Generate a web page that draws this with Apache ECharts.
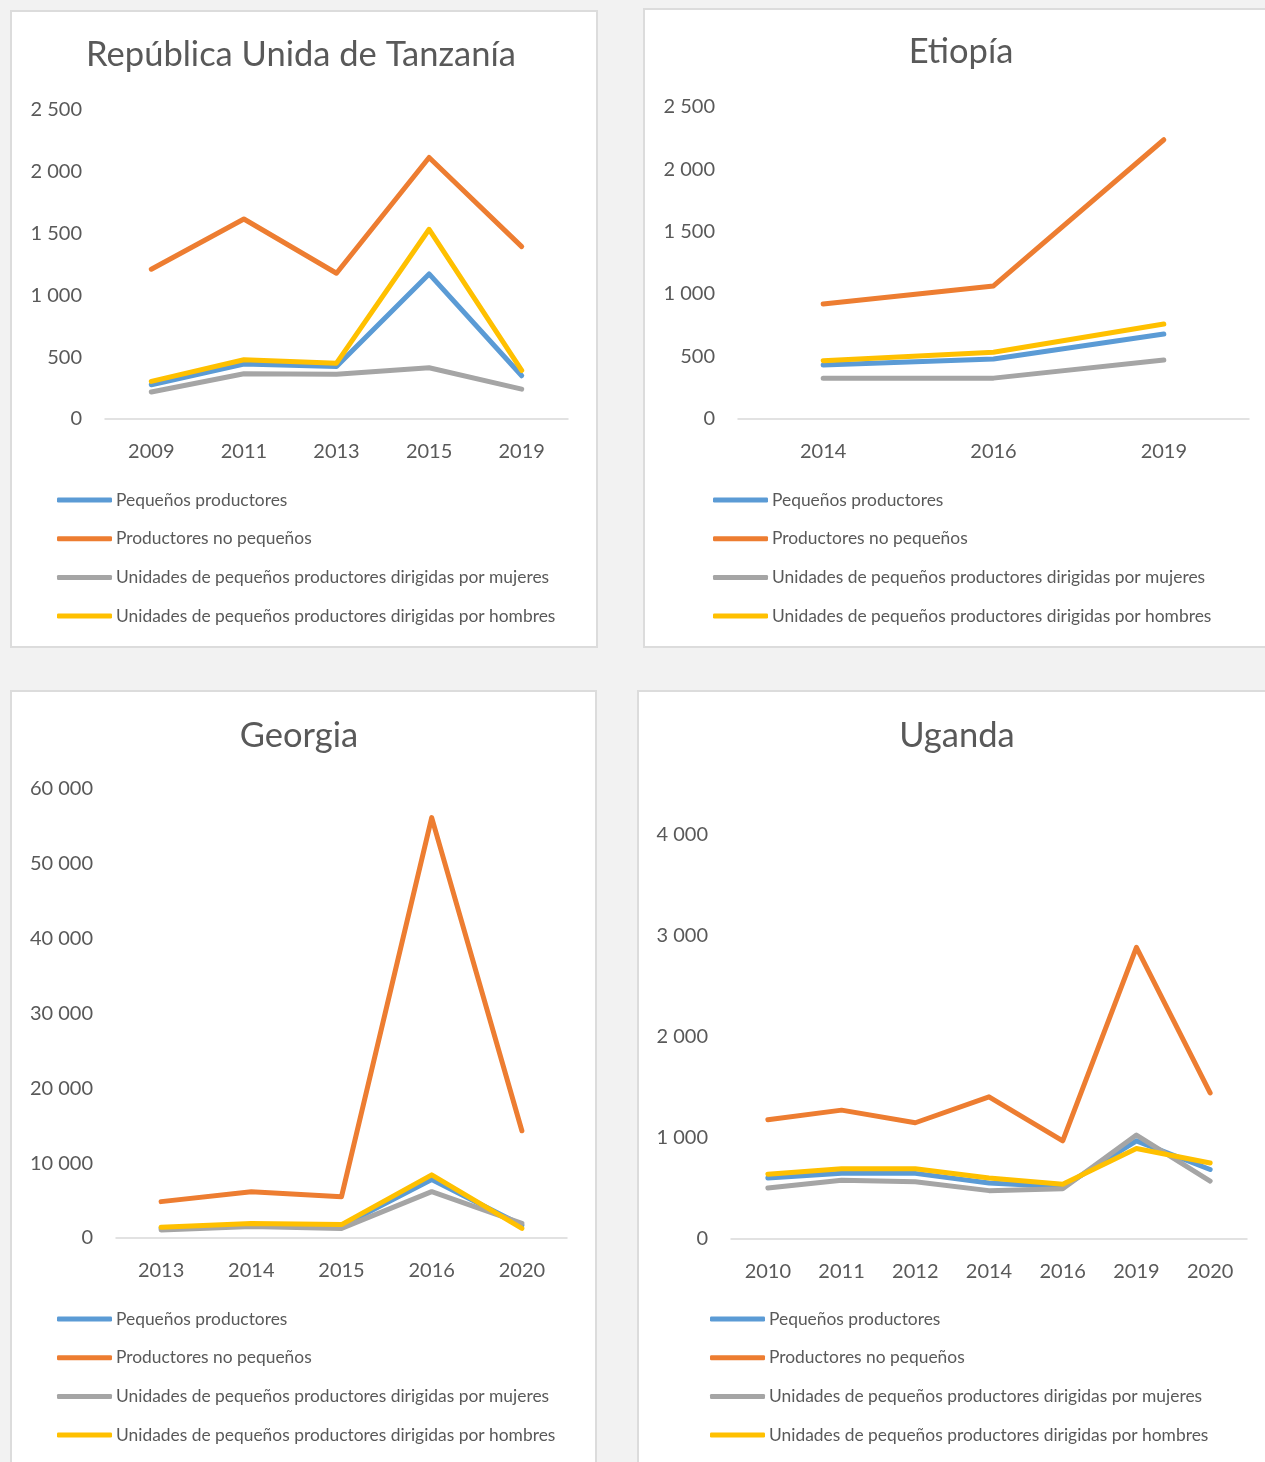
<!DOCTYPE html>
<html>
<head>
<meta charset="utf-8">
<script src="https://cdn.jsdelivr.net/npm/echarts@6/dist/echarts.min.js"></script>
<style>
  html, body { margin: 0; padding: 0; background: #f2f2f2; width: 1265px; height: 1462px; overflow: hidden; position: relative; }
  .panel { position: absolute; box-sizing: border-box; border: 2px solid #dcdcdc; background: #ffffff; }
</style>
</head>
<body>
<div id="p1" class="panel" style="left:10px; top:10px; width:588px; height:638px;"></div>
<div id="p2" class="panel" style="left:643px; top:8px; width:638px; height:640px;"></div>
<div id="p3" class="panel" style="left:10px; top:690px; width:587px; height:790px;"></div>
<div id="p4" class="panel" style="left:637px; top:690px; width:642px; height:790px;"></div>
<script>
const seriesNames = [
  'Pequeños productores',
  'Productores no pequeños',
  'Unidades de pequeños productores dirigidas por mujeres',
  'Unidades de pequeños productores dirigidas por hombres'
];
const seriesColors = ['#5B9BD5', '#ED7D31', '#A5A5A5', '#FFC000'];

// República Unida de Tanzanía
const tzYears = ['2009', '2011', '2013', '2015', '2019'];
const tzSmall = [277, 444, 425, 1174, 350];
const tzNonSmall = [1212, 1618, 1179, 2116, 1395];
const tzWomen = [218, 366, 363, 415, 242];
const tzMen = [304, 479, 452, 1535, 393];

// Etiopía
const etYears = ['2014', '2016', '2019'];
const etSmall = [429, 477, 678];
const etNonSmall = [919, 1064, 2237];
const etWomen = [324, 324, 469];
const etMen = [464, 531, 758];

// Georgia
const geYears = ['2013', '2014', '2015', '2016', '2020'];
const geSmall = [1300, 1800, 1600, 7830, 1700];
const geNonSmall = [4860, 6190, 5520, 56180, 14330];
const geWomen = [1070, 1535, 1280, 6190, 1940];
const geMen = [1430, 1940, 1790, 8440, 1280];

// Uganda
const ugYears = ['2010', '2011', '2012', '2014', '2016', '2019', '2020'];
const ugSmall = [599, 645, 645, 550, 512, 967, 683];
const ugNonSmall = [1176, 1271, 1146, 1403, 967, 2883, 1441];
const ugWomen = [501, 577, 561, 474, 493, 1024, 569];
const ugMen = [637, 690, 690, 599, 538, 891, 747];

const FONT = 'Lato, "Open Sans", sans-serif';
const TXT = '#595959';

function fmt(v) {
  return String(v).replace(/\B(?=(\d{3})+(?!\d))/g, ' ');
}

function build(cfg) {
  const series = cfg.values.map((vals, i) => ({
    name: seriesNames[i],
    type: 'line',
    data: vals,
    showSymbol: false,
    symbol: 'none',
    lineStyle: { color: seriesColors[i], width: 5, cap: 'round', join: 'round' },
    itemStyle: { color: seriesColors[i] },
    emphasis: { disabled: true },
    animation: false
  }));
  return {
    animation: false,
    textStyle: { fontFamily: FONT },
    title: {
      text: cfg.title,
      left: cfg.titleX,
      top: cfg.titleY,
      textAlign: 'center',
      padding: 0,
      textStyle: { fontFamily: FONT, fontSize: 34.5, fontWeight: 'normal', color: TXT }
    },
    grid: { left: cfg.grid[0], top: cfg.grid[1], width: cfg.grid[2], height: cfg.grid[3], containLabel: false },
    xAxis: {
      type: 'category',
      data: cfg.years,
      boundaryGap: true,
      axisLine: { show: true, lineStyle: { color: '#d9d9d9', width: 1.5 } },
      axisTick: { show: false },
      axisLabel: { fontFamily: FONT, fontSize: 20, color: TXT, margin: 23 },
      splitLine: { show: false }
    },
    yAxis: {
      type: 'value',
      min: 0,
      max: cfg.yMax,
      interval: cfg.yInterval,
      axisLine: { show: false },
      axisTick: { show: false },
      splitLine: { show: false },
      axisLabel: { fontFamily: FONT, fontSize: 20, color: TXT, margin: 23, formatter: fmt }
    },
    legend: {
      orient: 'vertical',
      left: cfg.legend[0],
      top: cfg.legend[1],
      padding: 0,
      itemGap: 18.7,
      itemWidth: 55,
      itemHeight: 5,
      icon: 'roundRect',
      selectedMode: false,
      data: seriesNames,
      textStyle: { fontFamily: FONT, fontSize: 17.4, color: TXT, lineHeight: 20, padding: [0, 0, 0, -1] }
    },
    series: series
  };
}

const charts = [
  {
    id: 'p1', title: 'República Unida de Tanzanía', titleX: 289, titleY: 25,
    years: tzYears, values: [tzSmall, tzNonSmall, tzWomen, tzMen],
    yMax: 2500, yInterval: 500, grid: [93, 98, 463, 309], legend: [45, 478]
  },
  {
    id: 'p2', title: 'Etiopía', titleX: 316, titleY: 24,
    years: etYears, values: [etSmall, etNonSmall, etWomen, etMen],
    yMax: 2500, yInterval: 500, grid: [93, 97, 511, 311.5], legend: [68, 480]
  },
  {
    id: 'p3', title: 'Georgia', titleX: 287, titleY: 26,
    years: geYears, values: [geSmall, geNonSmall, geWomen, geMen],
    yMax: 60000, yInterval: 10000, grid: [104, 97, 451, 449], legend: [45, 617]
  },
  {
    id: 'p4', title: 'Uganda', titleX: 318, titleY: 26,
    years: ugYears, values: [ugSmall, ugNonSmall, ugWomen, ugMen],
    yMax: 4000, yInterval: 1000, grid: [92, 142.5, 516, 404], legend: [71, 617]
  }
];

charts.forEach(c => {
  const el = document.getElementById(c.id);
  const chart = echarts.init(el, null, { renderer: 'canvas' });
  chart.setOption(build(c));
});
</script>
</body>
</html>
